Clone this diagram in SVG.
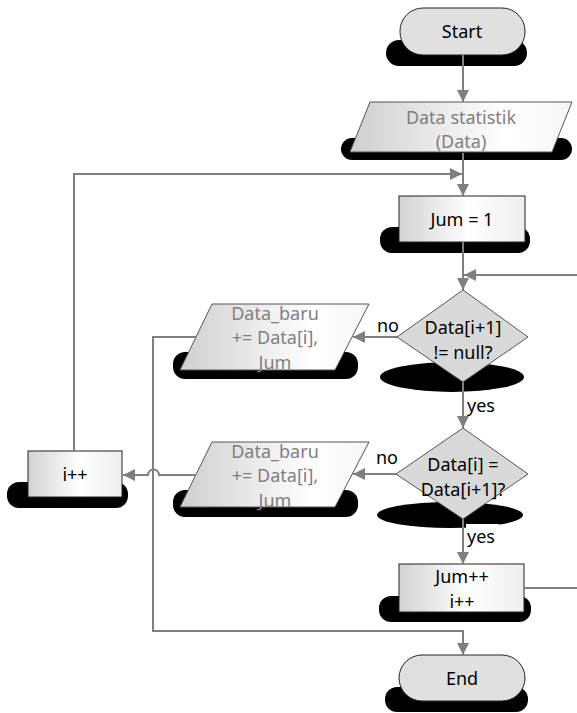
<svg xmlns="http://www.w3.org/2000/svg" width="577" height="713" viewBox="0 0 577 713">
<style>
.t{font-family:"Noto Sans","Liberation Sans",sans-serif;font-size:18px;text-anchor:middle;fill:#000}
.g{fill:#7f7f7f}
.sh{fill:#000}
.term{fill:#e0e0e0;stroke:#222;stroke-width:1}
.box{fill:url(#gb);stroke:#222;stroke-width:1}
.par{fill:url(#gp);stroke:#555;stroke-width:1}
.dia{fill:#d9d9d9;stroke:#555;stroke-width:1}
.c{fill:none;stroke:#7f7f7f;stroke-width:2}
.a{marker-end:url(#ah)}
.lb{font-family:"Noto Sans","Liberation Sans",sans-serif;font-size:18px;fill:#000}
</style>
<defs>
<linearGradient id="gb" x1="0" y1="0" x2="1" y2="0">
<stop offset="0" stop-color="#d2d2d2"/><stop offset="0.55" stop-color="#ffffff"/><stop offset="1" stop-color="#eeeeee"/>
</linearGradient>
<linearGradient id="gp" x1="0" y1="0" x2="1" y2="0">
<stop offset="0" stop-color="#cfcfcf"/><stop offset="0.7" stop-color="#ffffff"/><stop offset="1" stop-color="#f6f6f6"/>
</linearGradient>
<marker id="ah" viewBox="0 0 10 10" refX="10" refY="5" markerWidth="12" markerHeight="12" markerUnits="userSpaceOnUse" orient="auto">
<path d="M0,0 L10,5 L0,10 z" fill="#7f7f7f"/>
</marker>
</defs>

<g id="start">
<rect class="sh" x="386" y="40" width="141" height="26" rx="13"/>
<rect class="term" x="400" y="8" width="125" height="47" rx="23"/>
<text class="t" x="462" y="38">Start</text>
</g>

<g id="input">
<rect class="sh" x="341" y="138" width="231" height="22" rx="11"/>
<polygon class="par" points="370,102 572,102 552,152 350,152"/>
<text class="t g" x="461" y="124">Data statistik</text>
<text class="t g" x="461" y="148">(Data)</text>
</g>

<g id="jum1">
<rect class="sh" x="380" y="227" width="150" height="26" rx="12"/>
<rect class="box" x="399" y="196" width="126" height="46"/>
<text class="t" x="462" y="226">Jum = 1</text>
</g>

<g id="cond1">
<ellipse class="sh" cx="452" cy="377" rx="72" ry="15"/>
<polygon class="dia" points="463,290 528,337 463,382 397,337"/>
<text class="t" x="463" y="334">Data[i+1]</text>
<text class="t" x="463" y="359">!= null?</text>
</g>

<g id="out1">
<rect class="sh" x="173" y="352" width="185" height="27" rx="12"/>
<polygon class="par" points="212,304 369,304 335,370 180,370"/>
<text class="t g" x="275" y="320">Data_baru</text>
<text class="t g" x="275" y="344">+= Data[i],</text>
<text class="t g" x="275" y="369">Jum</text>
</g>

<g id="cond2">
<ellipse class="sh" cx="450" cy="515" rx="73" ry="13"/>
<polygon class="dia" points="463,428 528,474 463,519 396,474"/>
<text class="t" x="463" y="471">Data[i] =</text>
<text class="t" x="463" y="496">Data[i+1]?</text>
</g>

<g id="out2">
<rect class="sh" x="173" y="490" width="185" height="27" rx="12"/>
<polygon class="par" points="212,442 369,442 335,507 180,507"/>
<text class="t g" x="275" y="458">Data_baru</text>
<text class="t g" x="275" y="482">+= Data[i],</text>
<text class="t g" x="275" y="507">Jum</text>
</g>

<g id="iinc">
<rect class="sh" x="7" y="482" width="121" height="26" rx="12"/>
<rect class="box" x="28" y="451" width="94" height="46"/>
<text class="t" x="75" y="481">i++</text>
</g>

<g id="juminc">
<rect class="sh" x="379" y="596" width="152" height="26" rx="12"/>
<rect class="box" x="399" y="564" width="125" height="48"/>
<text class="t" x="462" y="583">Jum++</text>
<text class="t" x="462" y="608">i++</text>
</g>

<g id="end">
<rect class="sh" x="385" y="687" width="143" height="25" rx="12"/>
<rect class="term" x="399" y="655" width="126" height="46" rx="23"/>
<text class="t" x="462" y="685">End</text>
</g>

<g id="connectors">
<path class="c a" d="M463 55 V102"/>
<path class="c a" d="M463 153 V196"/>
<path class="c a" d="M74 451 V174 H462"/>
<path class="c a" d="M463 242 V290"/>
<path class="c" d="M524 588 H577"/>
<path class="c a" d="M577 275 H464"/>
<path class="c a" d="M397 337 H353"/>
<path class="c a" d="M463 382 V428"/>
<path class="c a" d="M396 474 H353"/>
<path class="c a" d="M463 519 V564"/>
<path class="c a" d="M196 337 H153 V631 H463 V655"/>
<path class="c a" d="M196 475 H159 A5 5 0 0 0 148 475 H123"/>
</g>

<g id="labels">
<text class="lb" x="377" y="332">no</text>
<rect x="466" y="395" width="33" height="21" fill="#fff"/>
<text class="lb" x="467" y="412">yes</text>
<text class="lb" x="376" y="464">no</text>
<rect x="466" y="524" width="33" height="22" fill="#fff"/>
<text class="lb" x="467" y="543">yes</text>
</g>
</svg>
